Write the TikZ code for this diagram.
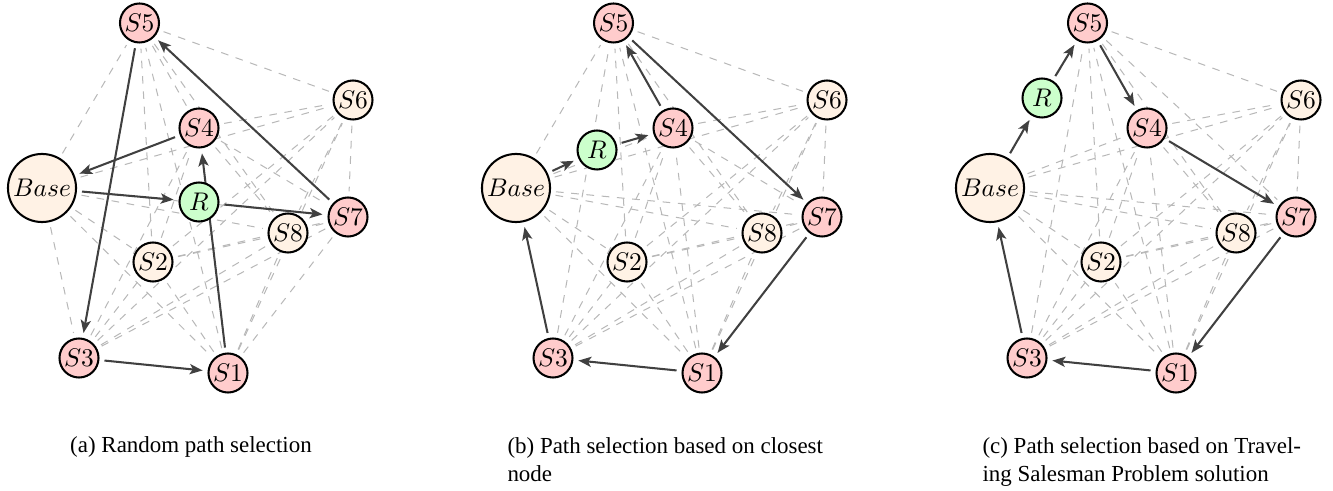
\documentclass[tikz,border=0pt]{standalone}
\usepackage{fontspec}
\newfontfamily\capfont{Liberation Serif}
\usetikzlibrary{arrows.meta}
\pgfdeclarelayer{bg}
\pgfdeclarelayer{mid}
\pgfsetlayers{bg,mid,main}
\tikzset{
  px/.style={x=0.39216pt,y=-0.39216pt},
  sensor/.style={circle,draw=black,line width=0.8pt,minimum size=15.3pt,inner sep=0pt,outer sep=2.4pt,font=\normalsize},
  visited/.style={sensor,fill=red!20},
  unvisited/.style={sensor,fill=orange!10},
  robot/.style={sensor,fill=green!20},
  basenode/.style={sensor,fill=orange!10,minimum size=26.7pt},
  link/.style={draw=black!28,dashed,line width=0.4pt},
  route/.style={draw=black!75,line width=0.8pt,-{Stealth[length=5pt,width=4pt,inset=1.2pt]}},
  captext/.style={font=\capfont\fontsize{9}{11}\selectfont,align=left,inner sep=0pt}
}
\newcommand\drawpanel[4]{%
  \begin{scope}[shift={(#2,188)}]
    \node[basenode]  (#1B)  at (0,0)       {$Base$};
    \node[visited]   (#1S1) at (186,185)   {$S1$};
    \node[unvisited] (#1S2) at (111,74)    {$S2$};
    \node[visited]   (#1S3) at (37,170)    {$S3$};
    \node[visited]   (#1S4) at (157,-60)   {$S4$};
    \node[visited]   (#1S5) at (97.5,-165) {$S5$};
    \node[unvisited] (#1S6) at (311,-88)   {$S6$};
    \node[visited]   (#1S7) at (306,29)    {$S7$};
    \node[unvisited] (#1S8) at (246,45)    {$S8$};
    \node[robot]     (#1R)  at (#3)        {$R$};
    \begin{pgfonlayer}{bg}
      \foreach \u [count=\i] in {B,S1,S2,S3,S4,S5,S6,S7,S8}{
        \foreach \v [count=\j] in {B,S1,S2,S3,S4,S5,S6,S7,S8}{
          \ifnum\j>\i \draw[link] (#1\u) -- (#1\v); \fi
        }
      }
    \end{pgfonlayer}
    \begin{pgfonlayer}{mid}
      \foreach \u/\v in {#4} \draw[route] (#1\u) -- (#1\v);
    \end{pgfonlayer}
  \end{scope}}
\begin{document}
\begin{tikzpicture}[px]
  \useasboundingbox (0,0) rectangle (1333,491);
  \drawpanel{a}{42}{157,14}{B/R,R/S7,S7/S5,S5/S3,S3/S1,S1/S4,S4/B}
  \drawpanel{b}{516}{81,-38}{B/R,R/S4,S4/S5,S5/S7,S7/S1,S1/S3,S3/B}
  \drawpanel{c}{990}{52,-90}{B/R,R/S5,S5/S4,S4/S7,S7/S1,S1/S3,S3/B}
  \node[captext,anchor=base] (capa) at (191,453) {(a) Random path selection};
  \node[captext,anchor=base west] (capb) at (507,482) {(b) Path selection based on closest\\node};
  \node[captext,anchor=base west] (capc) at (982,482) {(c) Path selection based on Travel-\\ing Salesman Problem solution};
\end{tikzpicture}
\end{document}
